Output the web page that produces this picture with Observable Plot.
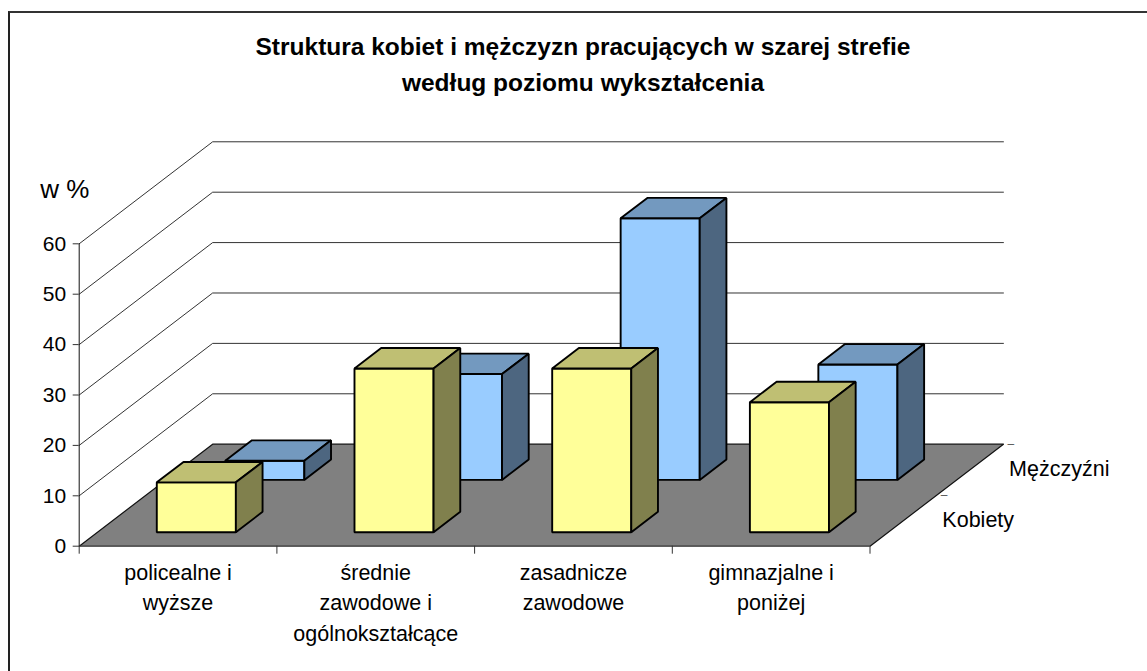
<!DOCTYPE html>
<html lang="pl">
<head>
<meta charset="utf-8">
<script src="https://cdn.jsdelivr.net/npm/d3@7"></script>
<script src="https://cdn.jsdelivr.net/npm/@observablehq/plot@0.6"></script>
<style>
  html, body { margin: 0; padding: 0; background: #fff; }
  #wrap { position: relative; width: 1147px; height: 671px; overflow: hidden; font-family: "Liberation Sans", Arial, sans-serif; }
  #frame { position: absolute; left: 8px; top: 11px; width: 1139px; height: 660px; border-top: 2px solid #333; border-left: 2px solid #222; pointer-events: none; }
  #title { position: absolute; left: 0; top: 29px; width: 1166px; text-align: center; font-weight: bold; font-size: 24.5px; line-height: 36px; color: #000; }
  #chart svg { display: block; position: absolute; left: 0; top: 0; }
</style>
</head>
<body>
<div id="wrap">
  <div id="chart"></div>
  <div id="frame"></div>
  <div id="title">Struktura kobiet i mężczyzn pracujących w szarej strefie<br>według poziomu wykształcenia</div>
</div>
<script>
const categories = ["policealne i\nwyższe", "średnie\nzawodowe i\nogólnokształcące", "zasadnicze\nzawodowe", "gimnazjalne i\nponiżej"];
const seriesNames = ["Kobiety", "Mężczyźni"];
const kobiety = [9.9, 32.5, 32.5, 25.8];
const mezczyzni = [3.8, 21, 51.9, 22.9];
const valueTicks = [0, 10, 20, 30, 40, 50, 60];
const categoryTicks = [0, 1, 2, 3, 4];

const colorsK = {front: "#FFFF99", top: "#BFBF73", side: "#80804D"};
const colorsM = {front: "#99CCFF", top: "#7399BF", side: "#4D6680"};

// oblique projection: a unit of depth shifts a point along both chart axes
const shearX = 0.675, shearY = 20.24;
const P = (cat, value, depth) => ({px: cat + depth * shearX, py: value + depth * shearY});
const barInset = 0.30, barWidth = 0.40, barDepth = 0.20;

function barFaces(values, depth0) {
  const front = [], top = [], side = [];
  values.forEach((v, i) => {
    const a = i + barInset, b = a + barWidth, d0 = depth0, d1 = depth0 + barDepth;
    [[a,0,d0],[b,0,d0],[b,v,d0],[a,v,d0]].forEach(p => front.push({id: i, ...P(...p)}));
    [[a,v,d0],[b,v,d0],[b,v,d1],[a,v,d1]].forEach(p => top.push({id: i, ...P(...p)}));
    [[b,0,d0],[b,0,d1],[b,v,d1],[b,v,d0]].forEach(p => side.push({id: i, ...P(...p)}));
  });
  return {front, top, side};
}
const barOpts = {x: "px", y: "py", z: "id", curve: "linear-closed", stroke: "#000", strokeWidth: 1.9, strokeLinejoin: "miter"};
const barMarks = (faces, colors) => ["front", "top", "side"].map(f =>
  Plot.line(faces[f], {...barOpts, fill: colors[f]}));

const floor = [[0,0,0],[4,0,0],[4,0,1],[0,0,1]].map(p => P(...p));
const grid = valueTicks.filter(v => v > 0).flatMap(v =>
  [[0,v,0],[0,v,1],[4,v,1]].map(p => ({id: v, ...P(...p)})));
const floorEdges = [[0,0,0],[0,0,1],[4,0,1],[4,0,0]].map(p => P(...p));
const depthTicks = [0.5, 1].map(d => P(4, 0, d));
const depthLabels = seriesNames.map((name, i) => ({name, ...P(4, 0, 0.25 + i * 0.5)}));
const catLabels = categories.map((label, i) => ({label, c: i + 0.5}));

const chart = Plot.plot({
  width: 1147,
  height: 671,
  marginLeft: 78.7,
  marginRight: 277.5,
  marginTop: 243.3,
  marginBottom: 125.3,
  style: {fontFamily: "'Liberation Sans', Arial, sans-serif", background: "transparent", overflow: "visible"},
  x: {type: "linear", domain: [0, 4]},
  y: {type: "linear", domain: [0, 60]},
  marks: [
    Plot.line(floor, {x: "px", y: "py", curve: "linear-closed", fill: "#808080", stroke: "none"}),
    Plot.line(grid, {x: "px", y: "py", z: "id", stroke: "#333", strokeWidth: 1}),
    Plot.line(floorEdges, {x: "px", y: "py", stroke: "#111", strokeWidth: 1.2}),
    Plot.ruleY([0], {stroke: "#333", strokeWidth: 1.2}),
    Plot.ruleX([0], {stroke: "#111", strokeWidth: 1}),
    Plot.axisY({ticks: valueTicks, tickSize: 6, tickPadding: 7, fontSize: 21, label: null, stroke: "#333", color: "#000"}),
    Plot.axisX({ticks: categoryTicks, tickSize: 8, tickFormat: () => "", label: null, stroke: "#333"}),
    Plot.text(depthTicks, {x: "px", y: "py", text: () => "–", dx: 4, fontSize: 12, fill: "#555", textAnchor: "start"}),
    ...barMarks(barFaces(mezczyzni, 0.65), colorsM),
    ...barMarks(barFaces(kobiety, 0.137), colorsK),
    Plot.text(catLabels, {x: "c", y: () => 0, text: "label", dy: 11.5, lineAnchor: "top", lineHeight: 1.43, fontSize: 21.5, fill: "#000"}),
    Plot.text(depthLabels, {x: "px", y: "py", text: "name", dx: 39, dy: -1, textAnchor: "start", fontSize: 21.5, fill: "#000"}),
    Plot.text(["w %"], {x: () => 0, y: () => 60, dx: -39, dy: -54, textAnchor: "start", fontSize: 26, fill: "#000"})
  ]
});
document.getElementById("chart").appendChild(chart);
</script>
</body>
</html>
